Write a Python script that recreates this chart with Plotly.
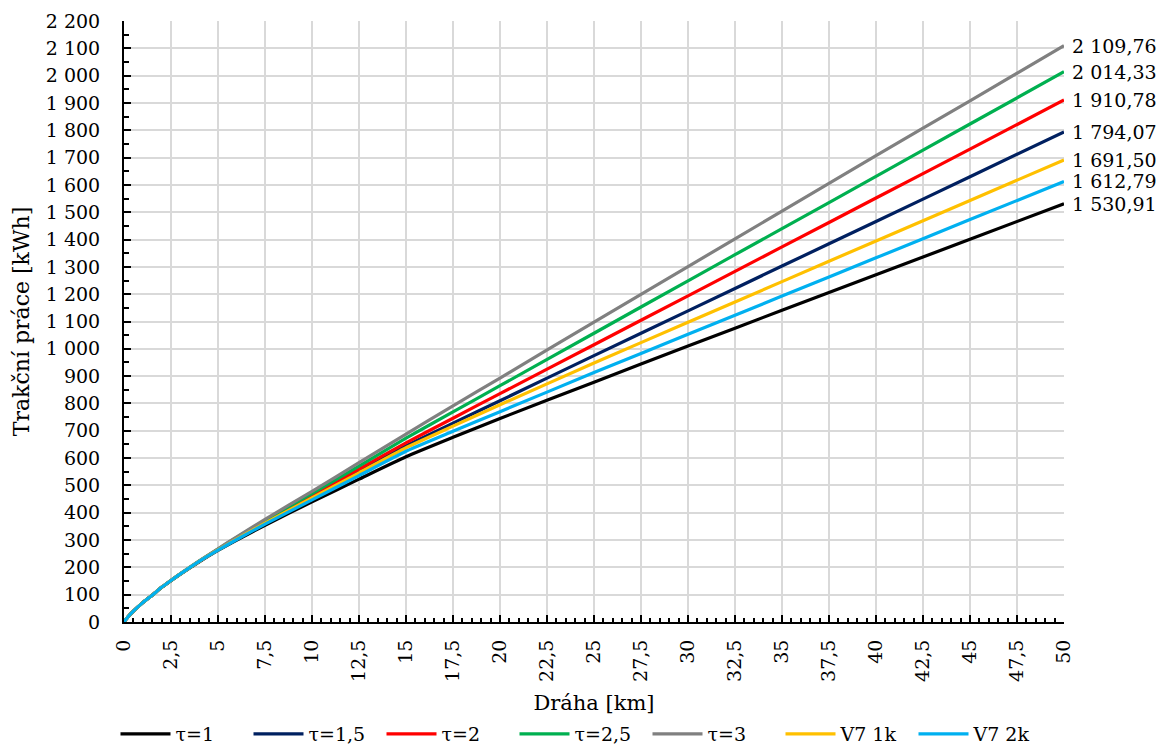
import plotly.graph_objects as go

km = [0, 0.25, 0.5, 1, 1.5, 2, 2.5, 3, 4, 5, 6, 7.5, 10, 12.5, 15, 17.5, 20, 25, 30, 35, 40, 45, 50]

tau_1 = [0, 22, 40, 71, 98, 126, 151, 175, 220, 262, 300, 354, 440, 523, 605, 676, 745, 878, 1010, 1141, 1271, 1401, 1530.91]
tau_1_5 = [0, 22, 40, 71, 98, 127, 152, 176, 222, 265, 306, 365, 458, 552, 645, 728, 810, 975, 1139, 1303, 1466, 1630, 1794.07]
tau_2 = [0, 22, 40, 71, 98, 127, 152, 176, 222, 266, 308, 368, 463, 560, 656, 746, 836, 1015, 1194, 1373, 1552, 1731, 1910.78]
tau_2_5 = [0, 22, 40, 71, 98, 127, 152, 176, 223, 267, 310, 372, 470, 571, 673, 769, 865, 1057, 1249, 1440, 1631, 1823, 2014.33]
tau_3 = [0, 22, 40, 71, 99, 128, 153, 177, 224, 268, 312, 376, 478, 583, 688, 791, 893, 1098, 1301, 1504, 1707, 1908, 2109.76]
v7_1k = [0, 22, 40, 71, 98, 127, 152, 176, 222, 264, 304, 362, 454, 546, 638, 717, 795, 948, 1097, 1246, 1395, 1543, 1691.50]
v7_2k = [0, 22, 40, 71, 98, 127, 152, 176, 222, 263, 302, 358, 447, 536, 625, 698, 770, 913, 1053, 1193, 1333, 1473, 1612.79]

names = ["τ=1", "τ=1,5", "τ=2", "τ=2,5", "τ=3", "V7 1k", "V7 2k"]
series = [tau_1, tau_1_5, tau_2, tau_2_5, tau_3, v7_1k, v7_2k]
colors = ["#000000", "#002060", "#FF0000", "#00B050", "#808080", "#FFC000", "#00B0F0"]

x_ticks = [i * 2.5 for i in range(21)]
x_ticktext = [(f"{v:g}").replace(".", ",") for v in x_ticks]

FONT = "DejaVu Serif"

fig = go.Figure()
for n, s, c in zip(names, series, colors):
    fig.add_trace(go.Scatter(x=km, y=s, name=n, mode="lines",
                             line=dict(color=c, width=3.2, shape="spline", smoothing=0.5)))

def fmt(v):
    return f"{v:,.2f}".replace(",", " ").replace(".", ",")

for s in series:
    fig.add_annotation(x=km[-1], y=s[-1], text=fmt(s[-1]), showarrow=False,
                       xanchor="left", yanchor="middle", xshift=6,
                       font=dict(family=FONT, size=19, color="black"))

fig.update_layout(
    width=1162, height=753,
    margin=dict(l=124, r=98, t=21, b=131, autoexpand=False),
    paper_bgcolor="white", plot_bgcolor="white",
    font=dict(family=FONT, size=19, color="black"),
    separators=", ",
    showlegend=True,
    legend=dict(orientation="h", xref="container", yref="container",
                x=0.5, xanchor="center", y=-0.004, yanchor="bottom",
                font=dict(family=FONT, size=19), itemwidth=50,
                entrywidth=68, tracegroupgap=0),
    xaxis=dict(range=[0, 50], tickvals=x_ticks, ticktext=x_ticktext,
               tickangle=-90, showgrid=True, gridcolor="#D9D9D9", gridwidth=2,
               showline=True, linecolor="black", linewidth=2,
               ticks="inside", ticklen=7, tickwidth=2, tickcolor="black",
               minor=dict(dtick=0.5, ticks="inside", ticklen=4, tickwidth=1.5,
                          tickcolor="black", showgrid=False),
               ticklabelstandoff=8, zeroline=False, automargin=True,
               title=dict(text="Dráha [km]", font=dict(family=FONT, size=21), standoff=18)),
    yaxis=dict(range=[0, 2200], dtick=100, tick0=0, separatethousands=True,
               showgrid=True, gridcolor="#D9D9D9", gridwidth=2,
               showline=True, linecolor="black", linewidth=2,
               ticks="inside", ticklen=7, tickwidth=2, tickcolor="black",
               minor=dict(dtick=50, ticks="inside", ticklen=5, tickwidth=1.5,
                          tickcolor="black", showgrid=False),
               ticklabelstandoff=18, zeroline=False, automargin=True,
               title=dict(text="Trakční práce [kWh]", font=dict(family=FONT, size=22), standoff=10)),
)

fig.write_html("out.html")
